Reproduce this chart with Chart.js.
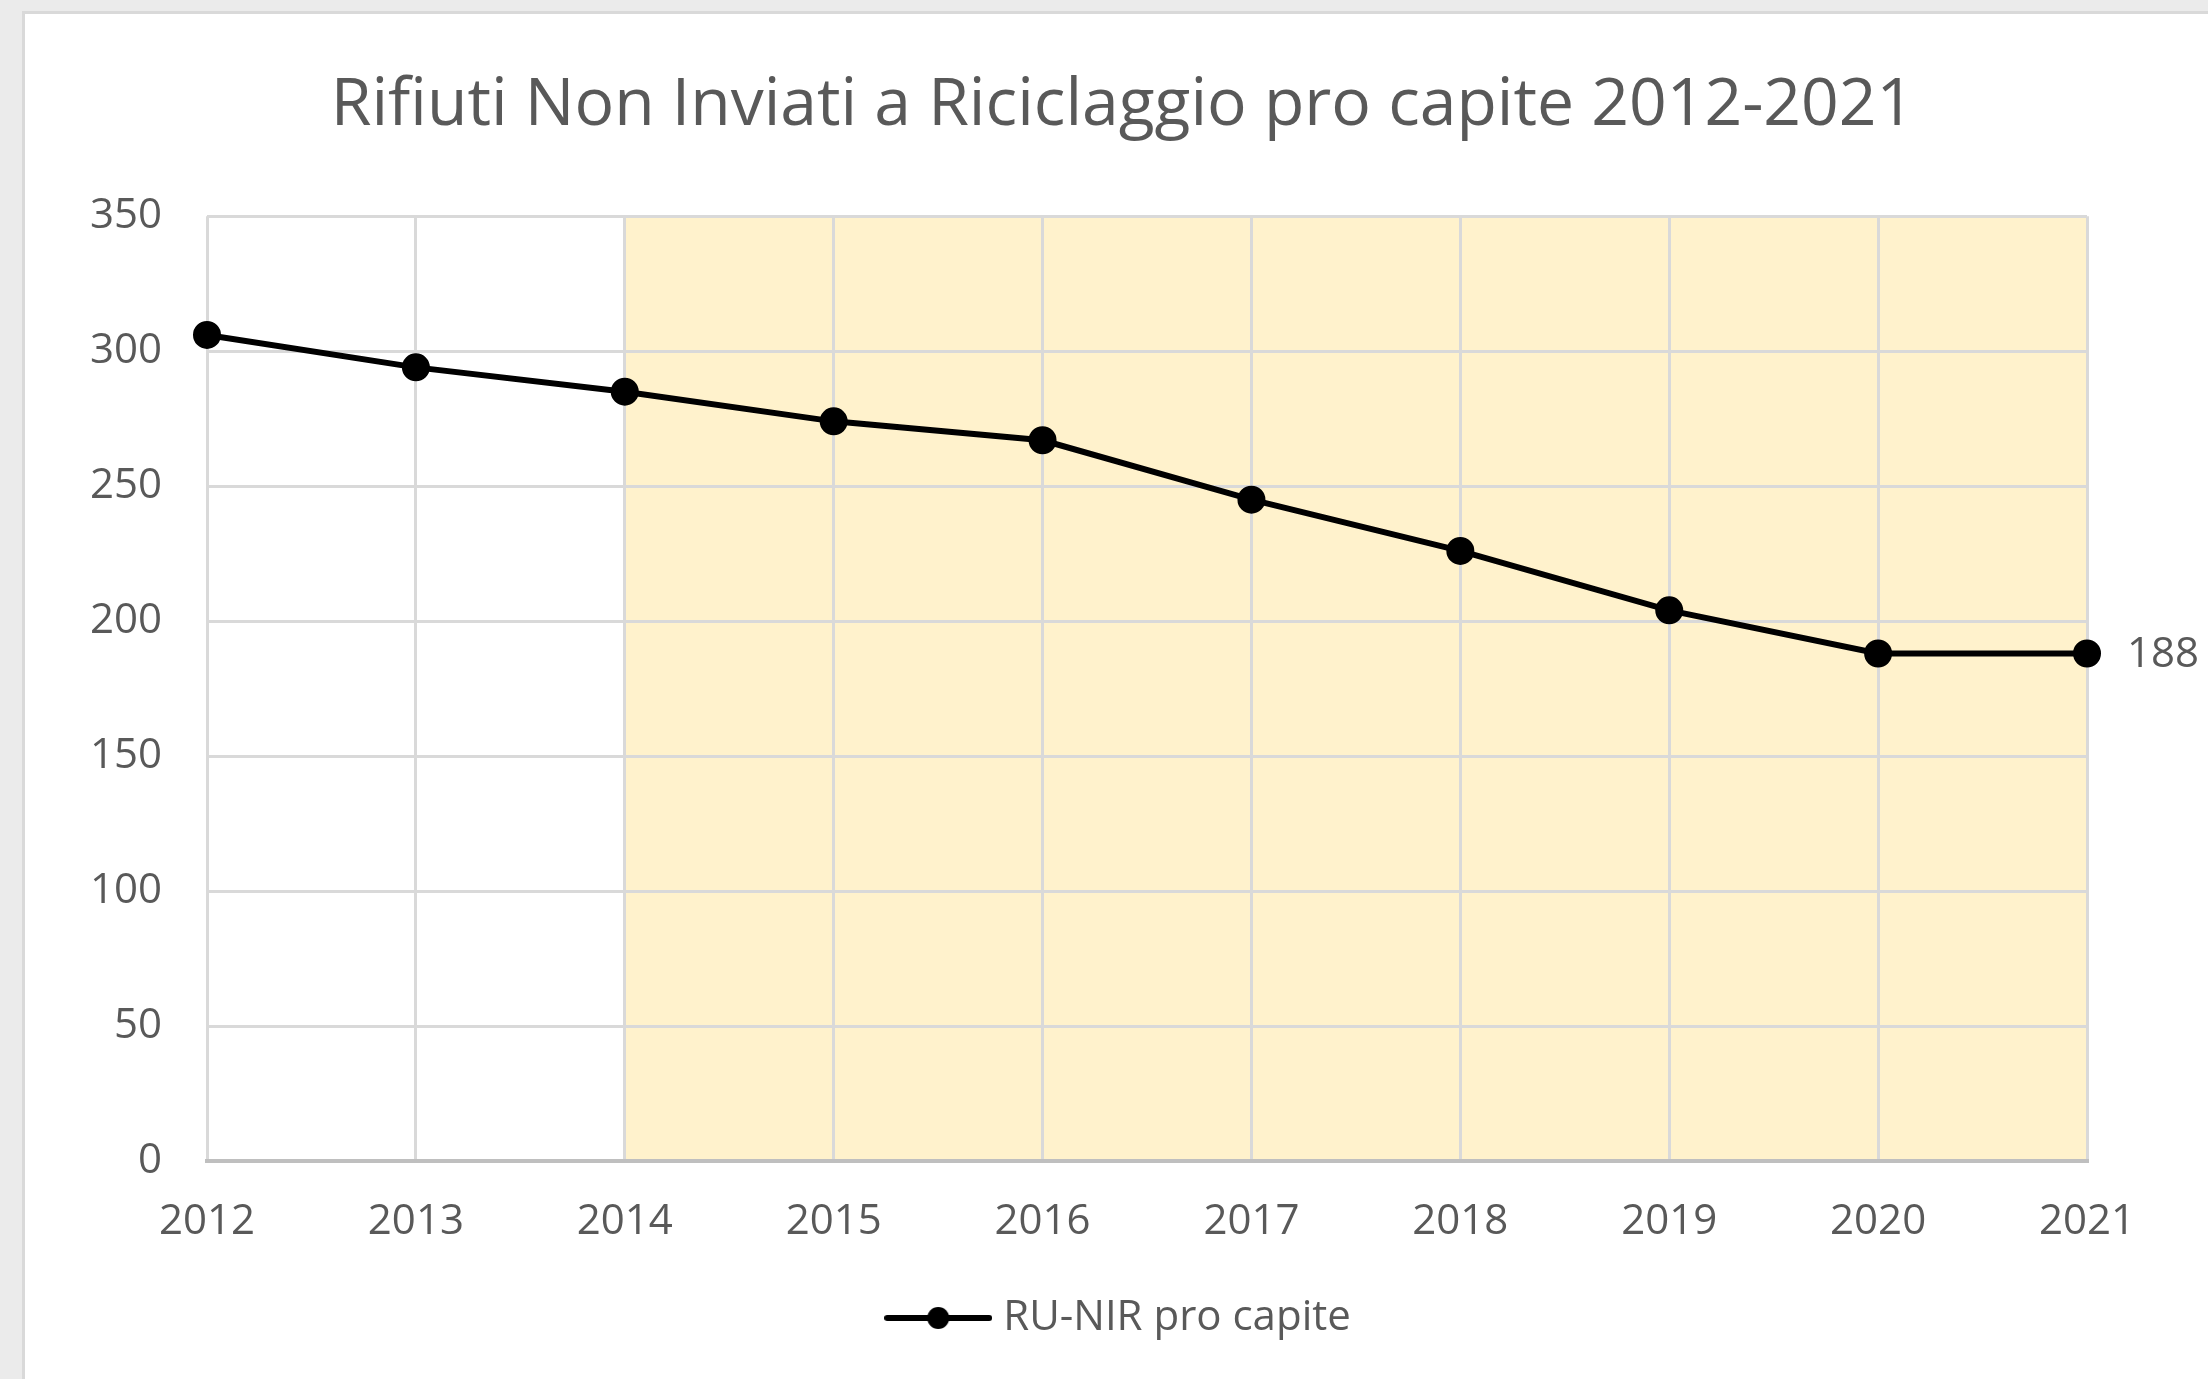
<!DOCTYPE html>
<html>
<head>
<meta charset="utf-8">
<script src="https://cdn.jsdelivr.net/npm/chart.js@4.4.1/dist/chart.umd.min.js"></script>
<style>
  html, body { margin: 0; padding: 0; background: #ebebeb; width: 2208px; height: 1379px; overflow: hidden; }
  #card { position: absolute; left: 22px; top: 11px; right: 0; bottom: 0; background: #fff;
          border-left: 3px solid #d9d9d9; border-top: 3px solid #d9d9d9; }
  #wrap { position: absolute; left: 0; top: 0; width: 2183px; height: 1365px; }
</style>
</head>
<body>
<div id="card"><div id="wrap"><canvas id="c"></canvas></div></div>
<script>
const years = ["2012", "2013", "2014", "2015", "2016", "2017", "2018", "2019", "2020", "2021"];
const ruNirProCapite = [306, 294, 285, 274, 267, 245, 226, 204, 188, 188];
const yTicks = [0, 50, 100, 150, 200, 250, 300, 350];
const shadedFrom = "2014";
const shadedTo = "2021";

const FONT = "'Open Sans', 'Noto Sans', sans-serif";
const TEXT = "#595959";

// legend marker: line with a dot (wider than its legend box so the gap to the text is small)
const legendMark = document.createElement("canvas");
legendMark.width = 108;
legendMark.height = 28;
(function () {
  const g = legendMark.getContext("2d");
  g.strokeStyle = "#000";
  g.lineWidth = 6;
  g.lineCap = "round";
  g.beginPath();
  g.moveTo(3, 14);
  g.lineTo(105, 14);
  g.stroke();
  g.fillStyle = "#000";
  g.beginPath();
  g.arc(54, 14, 11, 0, Math.PI * 2);
  g.fill();
})();

const shadePlugin = {
  id: "shade",
  beforeDraw(chart) {
    const x = chart.scales.x, area = chart.chartArea, ctx = chart.ctx;
    const x0 = x.getPixelForValue(years.indexOf(shadedFrom));
    const x1 = x.getPixelForValue(years.indexOf(shadedTo));
    ctx.save();
    ctx.fillStyle = "#fff2cc";
    ctx.fillRect(x0, area.top, x1 - x0, area.bottom - area.top);
    ctx.restore();
  }
};

const lastLabelPlugin = {
  id: "lastLabel",
  afterDatasetsDraw(chart) {
    const meta = chart.getDatasetMeta(0);
    const i = ruNirProCapite.length - 1;
    const pt = meta.data[i];
    const ctx = chart.ctx;
    ctx.save();
    ctx.font = "42px " + FONT;
    ctx.fillStyle = TEXT;
    ctx.textAlign = "left";
    ctx.textBaseline = "middle";
    ctx.fillText(String(ruNirProCapite[i]), pt.x + 40, pt.y + 2);
    ctx.restore();
  }
};

new Chart(document.getElementById("c"), {
  type: "line",
  data: {
    labels: years,
    datasets: [{
      label: "RU-NIR pro capite",
      data: ruNirProCapite,
      borderColor: "#000",
      backgroundColor: "#000",
      borderWidth: 6,
      pointRadius: 11,
      pointHoverRadius: 11,
      pointBackgroundColor: "#000",
      pointBorderColor: "#000",
      tension: 0
    }]
  },
  options: {
    responsive: true,
    maintainAspectRatio: false,
    animation: false,
    layout: { padding: { left: 12, right: 0, top: 0, bottom: 30 } },
    scales: {
      x: {
        offset: false,
        afterFit(s) { s.height = 126; },
        grid: { color: "#d9d9d9", lineWidth: 3, drawTicks: false },
        border: { color: "#bfbfbf", width: 4 },
        ticks: { color: TEXT, font: { family: FONT, size: 42 }, padding: 36, maxRotation: 0 }
      },
      y: {
        min: 0,
        max: 350,
        afterFit(s) { s.width = 170; },
        afterBuildTicks(s) { s.ticks = yTicks.map(v => ({ value: v })); },
        grid: { color: "#d9d9d9", lineWidth: 3, drawTicks: false },
        border: { display: false },
        ticks: { color: TEXT, font: { family: FONT, size: 42 }, padding: 45 }
      },
      // empty right-hand axis: keeps the plot narrower without shifting the title centre
      yRight: {
        position: "right",
        afterFit(s) { s.width = 121; },
        grid: { display: false, drawTicks: false },
        border: { display: false },
        ticks: { display: false }
      }
    },
    plugins: {
      title: {
        display: true,
        text: "Rifiuti Non Inviati a Riciclaggio pro capite 2012-2021",
        color: TEXT,
        font: { family: FONT, size: 66, weight: "normal" },
        padding: { top: 53, bottom: 70 }
      },
      legend: {
        position: "bottom",
        labels: {
          usePointStyle: true,
          pointStyleWidth: 88,
          color: TEXT,
          font: { family: FONT, size: 42 },
          padding: 10,
          generateLabels(chart) {
            const items = Chart.defaults.plugins.legend.labels.generateLabels(chart);
            items.forEach(it => { it.pointStyle = legendMark; });
            return items;
          }
        }
      },
      tooltip: { enabled: false }
    }
  },
  plugins: [shadePlugin, lastLabelPlugin]
});
</script>
</body>
</html>
